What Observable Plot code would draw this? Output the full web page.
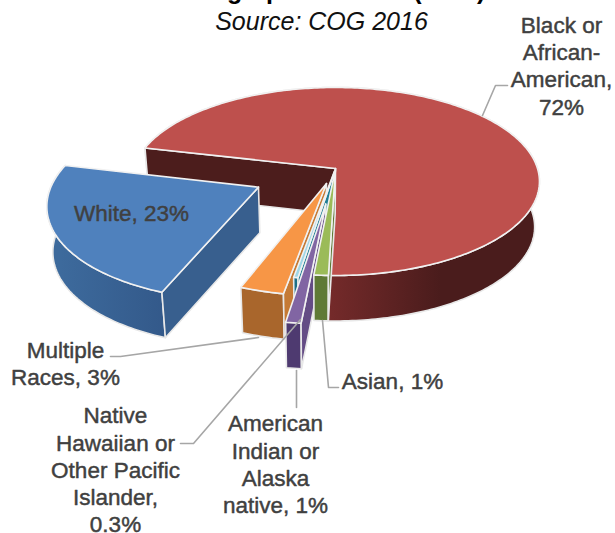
<!DOCTYPE html>
<html>
<head>
<meta charset="utf-8">
<script src="https://cdn.jsdelivr.net/npm/d3@7"></script>
<script src="https://cdn.jsdelivr.net/npm/@observablehq/plot@0.6"></script>
<style>
  html, body { margin: 0; padding: 0; background: #fff; }
  svg { display: block; }
</style>
</head>
<body>
<div id="chart"></div>
<script>
// Race and ethnicity shares, clockwise from the first slice.
const categories = ["Black or African-American", "Asian", "American Indian or Alaska native",
  "Native Hawaiian or Other Pacific Islander", "Multiple Races", "White"];
const shares = [72, 1, 1, 0.3, 3, 23];
const explosions = [0, 0, 0.37, 0.03, 0.165, 0.42];

// Slice styling, same order as the categories.
const topColors = ["#be504d", "#9bbb59", "#8165a3", "#9fd6e6", "#f79646", "#4f81bd"];
const edgeWallColors = ["#4c1d1c", "#5f7a36", "#644c85", "#1f7e96", "#c57a35", "#385f8e"];
const outerWallNear = ["#742a2a", "#5f7a36", "#4e3a70", "#1f6f86", "#a9662c", "#3d6a9c"];
const outerWallFar = ["#4a1c1c", "#5f7a36", "#4e3a70", "#1f6f86", "#a9662c", "#33598a"];
const shadeFromX = [330, 313, 288, 290, 245, 60];
const shadeToX = [440, 330, 302, 300, 285, 165];

// Tilted-disc projection: unit disc to chart coordinates.
const hub = {x: 335, y: 168};
const radiusX = 202, radiusY = 92.2, tilt = 0.138;
const depth = 45.5, vanishX = 320, depthShrink = 0.978;
const firstAngle = -76.7 * Math.PI / 180;

const topPoint = (u, v) => {
  const w = 1 - tilt * v;
  return {x: hub.x + radiusX * u / w, y: hub.y + radiusY * v / w};
};
const lowerPoint = (p) => ({x: vanishX + (p.x - vanishX) * depthShrink, y: p.y + depth});

const arcs = d3.pie().sort(null).startAngle(firstAngle).endAngle(firstAngle + 2 * Math.PI)(shares);
const paintOrder = [0, 5, 4, 3, 2, 1];

const edgeStroke = "#e8e8e8";
const polygon = (points, fill, stroke, strokeWidth) =>
  Plot.line([...points, points[0]], {
    x: "x", y: "y", fill, stroke, strokeWidth,
    strokeLinejoin: "round", curve: "linear"
  });

// Horizontal shading for each slice's curved wall.
const wallGradients = () => {
  const defs = d3.create("svg:defs");
  categories.forEach((_, i) => {
    const g = defs.append("linearGradient")
      .attr("id", `wall-${i}`).attr("gradientUnits", "userSpaceOnUse")
      .attr("x1", shadeFromX[i]).attr("x2", shadeToX[i]).attr("y1", 0).attr("y2", 0);
    g.append("stop").attr("offset", 0).attr("stop-color", outerWallNear[i]);
    g.append("stop").attr("offset", 1).attr("stop-color", outerWallFar[i]);
  });
  return defs.node();
};

const sliceMarks = paintOrder.flatMap((i) => {
  const {startAngle: a0, endAngle: a1} = arcs[i];
  const mid = (a0 + a1) / 2, e = explosions[i];
  const ox = e * Math.sin(mid), oy = -e * Math.cos(mid);
  const at = (t) => topPoint(Math.sin(t) + ox, -Math.cos(t) + oy);
  const apex = topPoint(ox, oy);
  const steps = Math.max(2, Math.ceil((a1 - a0) * 180 / Math.PI));
  const rim = d3.range(steps + 1).map((s) => at(a0 + (a1 - a0) * s / steps));

  const outerWall = polygon([...rim, ...rim.map(lowerPoint).reverse()], `url(#wall-${i})`, edgeStroke, 1.6);
  const leadingWall = polygon([apex, rim[0], lowerPoint(rim[0]), lowerPoint(apex)], edgeWallColors[i], edgeStroke, 1.6);
  const top = polygon([apex, ...rim], topColors[i], "#f1f1f1", 1.6);
  return [outerWall, leadingWall, top];
});

// Callouts tying outer labels to their slices.
const leaderPaths = [
  [[507, 85], [495, 85], [482, 115]],
  [[110, 356], [120, 356], [258, 337]],
  [[180, 443], [193, 443], [300, 319]],
  [[296, 370], [296, 407]],
  [[322, 320], [328, 387], [338, 387]]
];
const leaderMarks = leaderPaths.map((path) =>
  Plot.line(path, {x: (d) => d[0], y: (d) => d[1], stroke: "#a6a6a6", strokeWidth: 1.6, curve: "linear"})
);

const labelFont = "'Liberation Sans', Arial, sans-serif";
const labelRows = [
  {x: 561, y: 64.5, text: "Black or\nAfrican-\nAmerican,\n72%"},
  {x: 131, y: 212, text: "White, 23%"},
  {x: 65, y: 362, text: "Multiple\nRaces, 3%"},
  {x: 115, y: 468.5, text: "Native\nHawaiian or\nOther Pacific\nIslander,\n0.3%"},
  {x: 275, y: 463, text: "American\nIndian or\nAlaska\nnative, 1%"},
  {x: 392, y: 380, text: "Asian, 1%"}
];

const chart = Plot.plot({
  width: 615,
  height: 533,
  margin: 0,
  x: {axis: null, domain: [0, 615], range: [0, 615]},
  y: {axis: null, domain: [0, 533], range: [0, 533]},
  marks: [
    wallGradients,
    ...sliceMarks,
    ...leaderMarks,
    Plot.text(labelRows, {
      x: "x", y: "y", text: "text", fontSize: 22.5, lineHeight: 1.21, lineAnchor: "middle",
      fill: "#404040", stroke: "#404040", strokeWidth: 0.45, fontFamily: labelFont
    }),
    Plot.text(["Demographic Trends (2016)"], {
      x: () => 321, y: () => -2, fontSize: 25, fontWeight: 700, lineAnchor: "bottom",
      fill: "#000", fontFamily: labelFont
    }),
    Plot.text(["Source: COG 2016"], {
      x: () => 321, y: () => 21, fontSize: 25, fontStyle: "italic", lineAnchor: "middle",
      fill: "#111", fontFamily: labelFont
    })
  ]
});
document.getElementById("chart").append(chart);
</script>
</body>
</html>
